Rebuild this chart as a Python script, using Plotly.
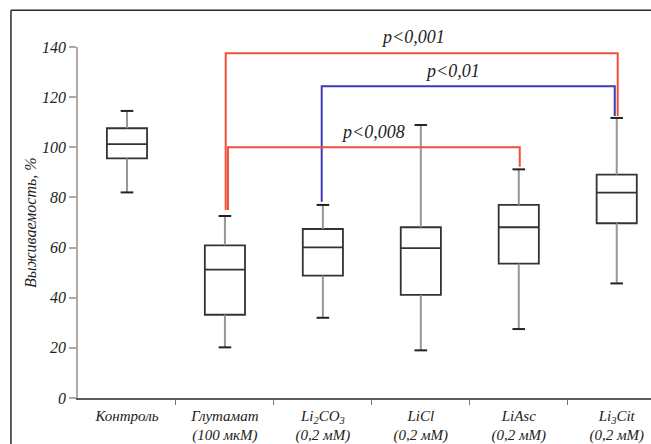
import plotly.graph_objects as go

categories = ["Контроль", "Глутамат<br>(100 мкМ)", "Li<sub>2</sub>CO<sub>3</sub><br>(0,2 мМ)",
              "LiCl<br>(0,2 мМ)", "LiAsc<br>(0,2 мМ)", "Li<sub>3</sub>Cit<br>(0,2 мМ)"]
upper_whisker = [114.5, 72.6, 77.0, 108.9, 91.2, 111.7]
q3_values = [107.6, 60.9, 67.4, 68.1, 77.0, 89.1]
median_values = [101.3, 51.2, 60.1, 59.8, 68.1, 81.9]
q1_values = [95.6, 33.2, 48.8, 41.1, 53.6, 69.7]
lower_whisker = [82.0, 20.2, 32.0, 19.0, 27.5, 45.7]

# significance brackets
bracket_from = [1, 2, 1]
bracket_to = [5, 5, 4]
bracket_level = [137.5, 124.3, 100.0]
bracket_label = ["p<0,001", "p<0,01", "p<0,008"]
bracket_color = ["#f0503c", "#3c3cb4", "#f0503c"]
bracket_off_l = [0.008, -0.012, 0.031]
bracket_off_r = [0.01, -0.02, 0.01]
bracket_start = [75.0, 78.3, 75.0]

yticks = [0, 20, 40, 60, 80, 100, 120, 140]

xs = list(range(len(categories)))
serif = "Liberation Serif"


def it(s):
    return "<i>" + s.replace("<br>", "</i><br><i>") + "</i>"


fig = go.Figure()

# whiskers (gray)
wx, wy = [], []
for i in xs:
    wx += [i, i, None, i, i, None]
    wy += [q3_values[i], upper_whisker[i], None, q1_values[i], lower_whisker[i], None]
fig.add_trace(go.Scatter(x=wx, y=wy, mode="lines", line=dict(color="#9c9494", width=2),
                         hoverinfo="skip", showlegend=False))

# whisker caps
fig.add_trace(go.Scatter(x=xs + xs, y=upper_whisker + lower_whisker, mode="markers",
                         marker=dict(symbol="line-ew", size=9, line=dict(color="#222222", width=2)),
                         hoverinfo="skip", showlegend=False))

# boxes
for i in xs:
    fig.add_trace(go.Box(x=[i], q1=[q1_values[i]], median=[median_values[i]], q3=[q3_values[i]],
                         lowerfence=[q1_values[i]], upperfence=[q3_values[i]],
                         width=0.41, whiskerwidth=0, fillcolor="white",
                         line=dict(color="#333333", width=1.8), boxpoints=False,
                         showlegend=False))

# brackets
for k in range(len(bracket_from)):
    a = bracket_from[k] + bracket_off_l[k]
    b = bracket_to[k] + bracket_off_r[k]
    yb = bracket_level[k]
    fig.add_trace(go.Scatter(x=[a, a, b, b],
                             y=[bracket_start[k], yb, yb, upper_whisker[bracket_to[k]] + (0.8 if k < 2 else 1.0)],
                             mode="lines", line=dict(color=bracket_color[k], width=2),
                             cliponaxis=False, hoverinfo="skip", showlegend=False))

label_x = [2.92, 3.32, 2.51]
label_y = [144.0, 130.5, 106.0]
for k in range(len(bracket_label)):
    fig.add_annotation(x=label_x[k], y=label_y[k] / 140.0, xref="x", yref="paper",
                       yanchor="middle", xanchor="center", text=it(bracket_label[k].replace("<", "&lt;")),
                       showarrow=False, font=dict(family=serif, size=18, color="#222"))

# y title
fig.add_annotation(x=-0.083, y=0.5, xref="paper", yref="paper", text=it("Выживаемость, %"),
                   textangle=-90, showarrow=False, xanchor="center", yanchor="middle",
                   font=dict(family=serif, size=16, color="#222"))

# outer frame
fig.add_shape(type="line", xref="paper", yref="paper", x0=-0.117, x1=1.2, y0=1.105, y1=1.105,
              line=dict(color="#2a2a2a", width=1.5))
fig.add_shape(type="line", xref="paper", yref="paper", x0=-0.117, x1=-0.117, y0=1.105, y1=-0.3,
              line=dict(color="#2a2a2a", width=1.5))

fig.update_layout(
    template="none",
    width=651, height=444,
    margin=dict(l=78, r=0, t=47, b=46),
    paper_bgcolor="white", plot_bgcolor="white",
    font=dict(family=serif),
    xaxis=dict(range=[-0.5, 5.35], tickvals=xs, ticktext=[it(c) for c in categories],
               showgrid=False, zeroline=False, ticklabelstandoff=3,
               showline=True, linecolor="#5a5a5a", linewidth=1.5, ticks="",
               tickfont=dict(family=serif, size=15, color="#222"),
               minor=dict(tickvals=[0.5, 1.5, 2.5, 3.5, 4.5], ticks="outside", ticklen=5,
                          tickcolor="#777", tickwidth=1, showgrid=False)),
    yaxis=dict(range=[0, 140], tickvals=yticks, ticktext=[it(str(v)) for v in yticks],
               showgrid=False, zeroline=False,
               showline=True, linecolor="#b0a8a8", linewidth=1.5, ticks="outside", ticklen=7,
               tickcolor="#b0a8a8", tickwidth=1.5,
               tickfont=dict(family=serif, size=16, color="#222")),
)

fig.write_html("out.html")
